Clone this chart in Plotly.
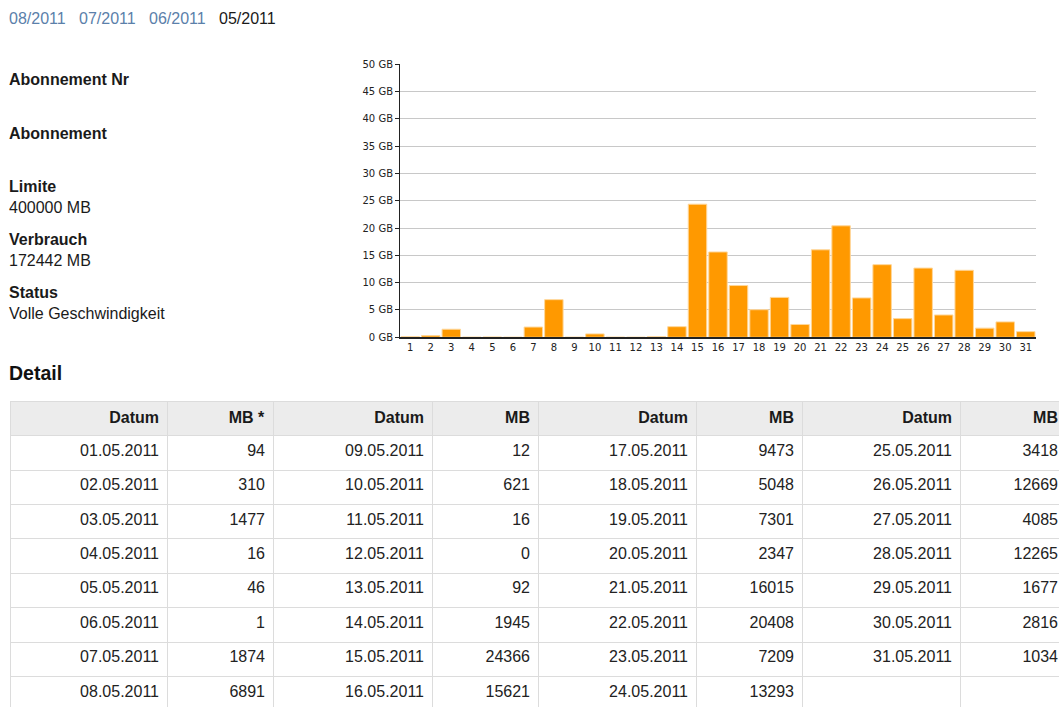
import plotly.graph_objects as go

W, H = 1075, 715

# ---- data ----
days = list(range(1, 32))
mb_values = [94, 310, 1477, 16, 46, 1, 1874, 6891, 12, 621, 16, 0, 92, 1945, 24366, 15621,
             9473, 5048, 7301, 2347, 16015, 20408, 7209, 13293, 3418, 12669, 4085, 12265,
             1677, 2816, 1034]
month_links = ["08/2011", "07/2011", "06/2011"]
current_month = "05/2011"
y_ticks_gb = [0, 5, 10, 15, 20, 25, 30, 35, 40, 45, 50]
table_headers = ["Datum", "MB *", "Datum", "MB", "Datum", "MB", "Datum", "MB"]
info_labels = ["Abonnement Nr", "Abonnement", "Limite", "Verbrauch", "Status"]
info_values = ["", "", "400000 MB", "172442 MB", "Volle Geschwindigkeit"]

gb_values = [v / 1000 for v in mb_values]


def px(x):
    return x / W


def py(y):
    return 1 - y / H


FONT = "Liberation Sans, Arial"
fig = go.Figure()

fig.add_trace(go.Bar(
    x=days, y=gb_values,
    marker=dict(color="#ff9900", line=dict(color="#ffd79a", width=1)),
    showlegend=False, hoverinfo="x+y",
))

# ---- table ----
cols = []
for c in range(4):
    chunk_days = days[c * 8:(c + 1) * 8]
    chunk_mb = mb_values[c * 8:(c + 1) * 8]
    d_col = ["%02d.05.2011" % d for d in chunk_days]
    m_col = [str(v) for v in chunk_mb]
    while len(d_col) < 8:
        d_col.append("")
        m_col.append("")
    cols.append(d_col)
    cols.append(m_col)

col_widths = [157, 106, 159, 106, 158, 106, 158, 106]
fig.add_trace(go.Table(
    domain=dict(x=[px(10), px(1066)], y=[0, py(402)]),
    columnwidth=col_widths,
    header=dict(values=["<b>%s</b>" % h for h in table_headers],
                fill_color="#ececec", line=dict(color="#dcdcdc", width=1),
                align="right", height=34.4,
                font=dict(family=FONT, size=16, color="#1a1a1a")),
    cells=dict(values=cols, fill_color="white", line=dict(color="#dcdcdc", width=1),
               align="right", height=34.4,
               font=dict(family=FONT, size=16, color="#222222")),
))

annotations = []
DY = -4
link_x = [7, 77, 147]
for lx, t in zip(link_x, month_links):
    annotations.append(dict(x=px(lx), y=py(18 + DY), text=t, showarrow=False, xanchor="left",
                            yanchor="middle", xref="paper", yref="paper",
                            font=dict(family=FONT, size=16, color="#5b80aa")))
annotations.append(dict(x=px(217), y=py(18 + DY), text=current_month, showarrow=False,
                        xanchor="left", yanchor="middle", xref="paper", yref="paper",
                        font=dict(family=FONT, size=16, color="#1a1a1a")))

label_y = [80, 134, 188, 242, 296]
for ly, lab, val in zip(label_y, info_labels, info_values):
    annotations.append(dict(x=px(7), y=py(ly + DY), text="<b>%s</b>" % lab, showarrow=False,
                            xanchor="left", yanchor="middle", xref="paper", yref="paper",
                            font=dict(family=FONT, size=16, color="#1a1a1a")))
    if val:
        annotations.append(dict(x=px(7), y=py(ly + 21 + DY), text=val, showarrow=False,
                                xanchor="left", yanchor="middle", xref="paper", yref="paper",
                                font=dict(family=FONT, size=16, color="#1a1a1a")))

annotations.append(dict(x=px(7), y=py(373), text="<b>Detail</b>", showarrow=False,
                        xanchor="left", yanchor="middle", xref="paper", yref="paper",
                        font=dict(family=FONT, size=19.5, color="#111111")))

fig.update_layout(
    width=W, height=H,
    margin=dict(l=0, r=0, t=0, b=0),
    paper_bgcolor="white", plot_bgcolor="white",
    bargap=0.1,
    annotations=annotations,
    xaxis=dict(domain=[px(400), px(1036)], range=[0.5, 31.5], tickvals=days,
               ticktext=[str(d) for d in days], showline=True, linecolor="#222222", linewidth=2,
               ticks="", showgrid=False, zeroline=False,
               tickfont=dict(family="DejaVu Sans", size=10, color="#222222")),
    yaxis=dict(domain=[py(337), py(60)], range=[0, 50], tickvals=y_ticks_gb,
               ticktext=["%d GB" % v for v in y_ticks_gb], showline=True, linecolor="#222222",
               linewidth=1, ticks="outside", ticklen=4, tickcolor="#222222",
               showgrid=True, gridcolor="#c8c8c8", gridwidth=1, zeroline=False,
               tickfont=dict(family="DejaVu Sans", size=10, color="#222222")),
)

fig.write_html("out.html", config={"displayModeBar": False},
               post_script="document.body.style.margin='0';document.body.style.overflow='hidden';")
